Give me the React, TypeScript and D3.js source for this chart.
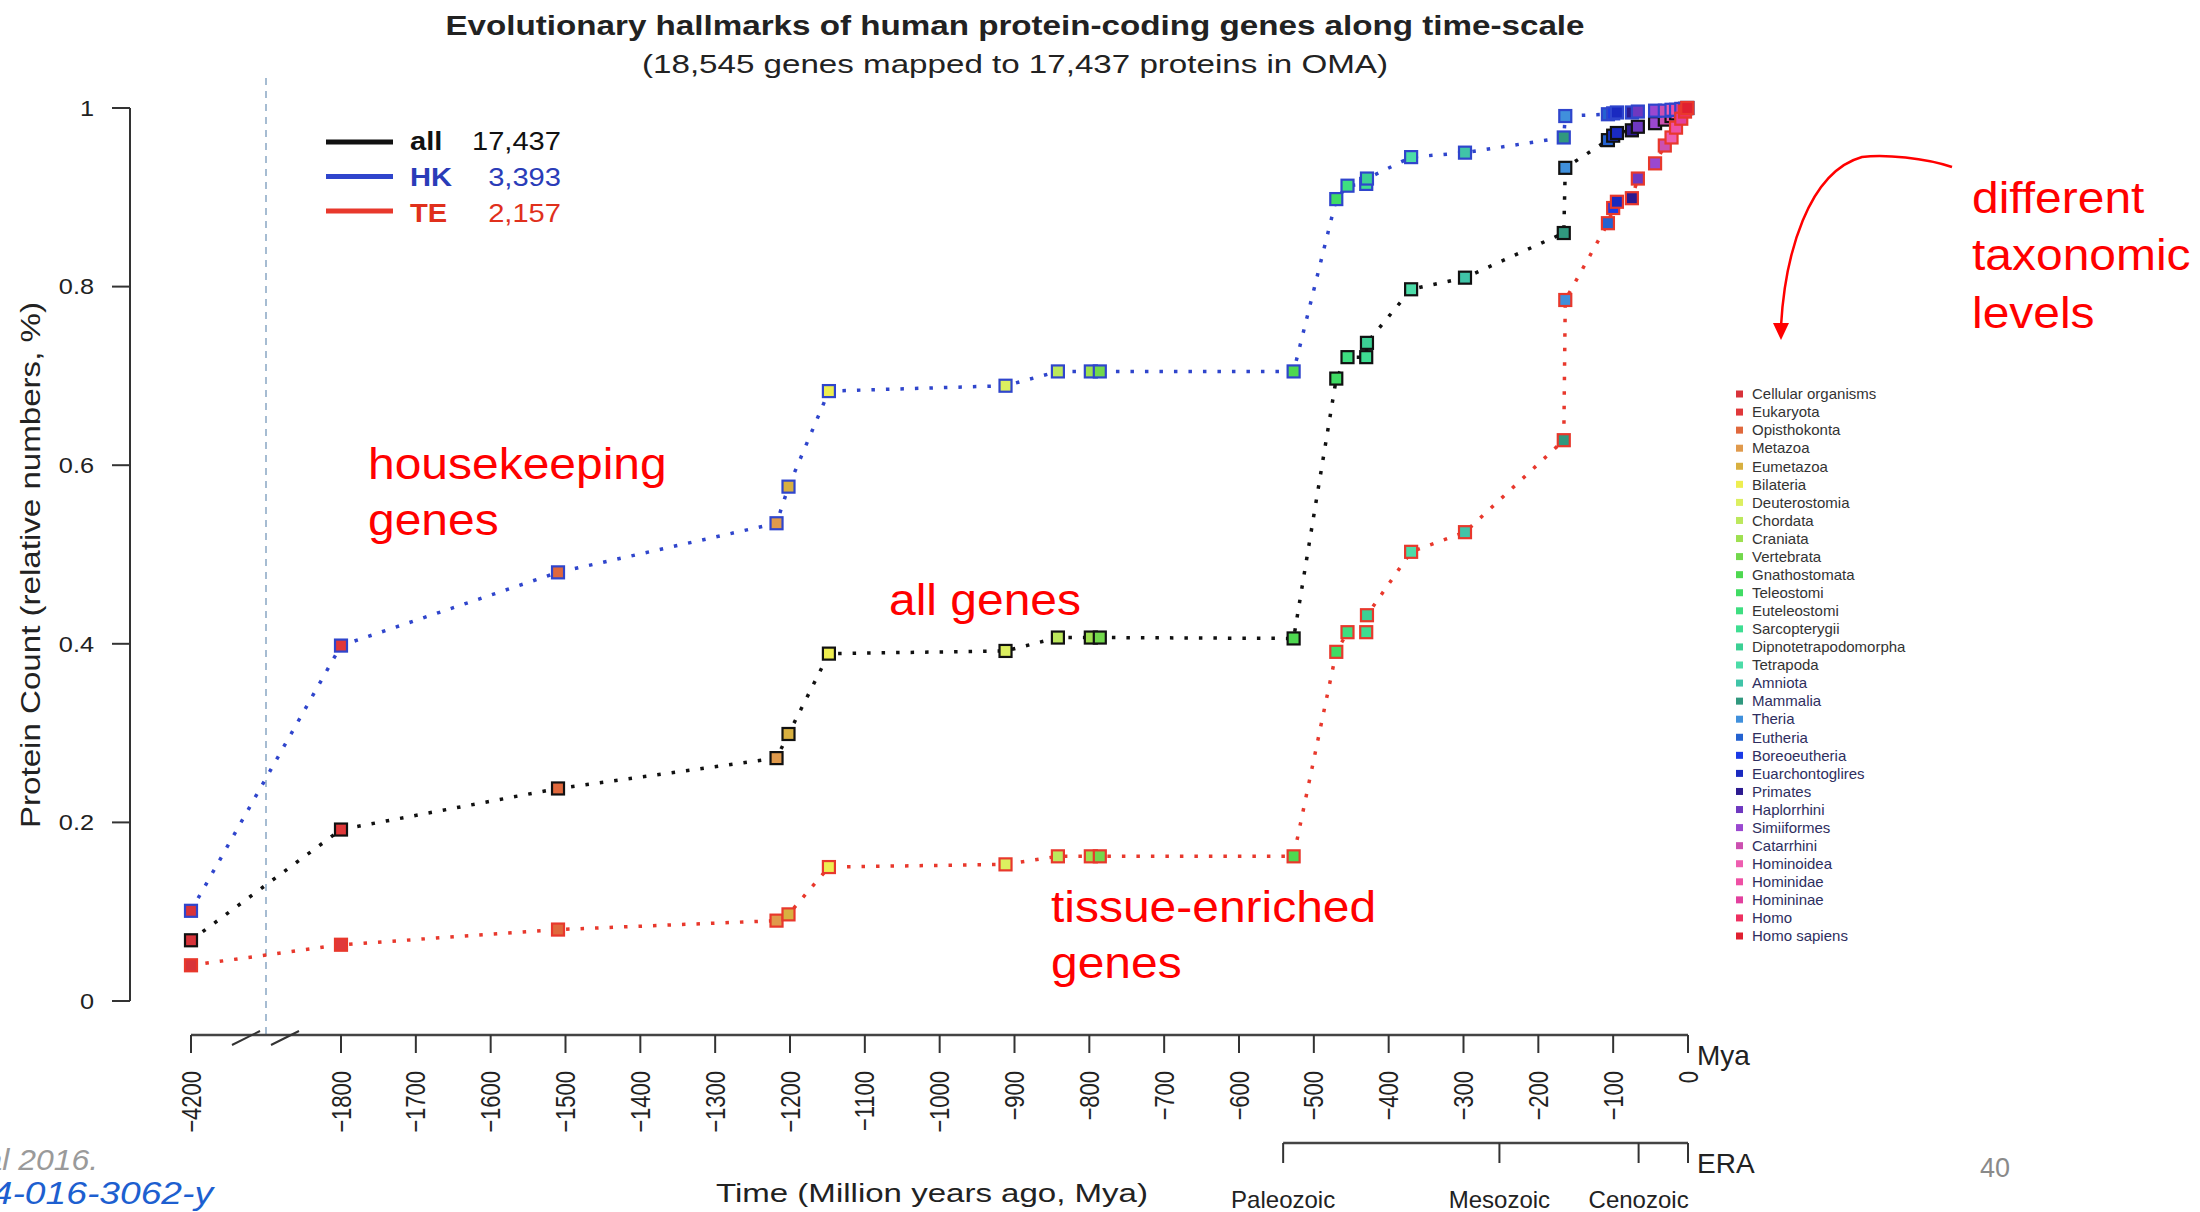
import React from 'react';
import * as d3 from 'd3';

// taxonomic levels, oldest first
const levels = [
  'Cellular organisms', 'Eukaryota', 'Opisthokonta', 'Metazoa', 'Eumetazoa', 'Bilateria',
  'Deuterostomia', 'Chordata', 'Craniata', 'Vertebrata', 'Gnathostomata', 'Teleostomi',
  'Euteleostomi', 'Sarcopterygii', 'Dipnotetrapodomorpha', 'Tetrapoda', 'Amniota', 'Mammalia',
  'Theria', 'Eutheria', 'Boreoeutheria', 'Euarchontoglires', 'Primates', 'Haplorrhini',
  'Simiiformes', 'Catarrhini', 'Hominoidea', 'Hominidae', 'Homininae', 'Homo', 'Homo sapiens',
];
const levelMya = [
  -4200, -1800, -1510, -1218, -1202, -1148, -912, -842, -798, -786, -527, -470,
  -455, -430, -429, -370, -298, -166, -164, -107, -100, -95, -75, -67,
  -44, -31, -22, -16, -9, -4, -1,
];
const levelColors = [
  '#d8333a', '#e0383a', '#e0683c', '#e09a4c', '#d8b040', '#eeee50',
  '#dcef60', '#bce85c', '#9ee050', '#72d84c', '#4ed850', '#40dc64',
  '#3ede80', '#3ede92', '#3cd094', '#4cdca8', '#40c4a8', '#30987e',
  '#4090dc', '#2462d0', '#1a3ae6', '#1a2ac0', '#2c1a90', '#6e38c0',
  '#9a48d0', '#cc50b0', '#ee5eb0', '#ee50a4', '#e2409e', '#ee3060', '#e02030',
];

// cumulative share of proteins per level
const hkShare = [
  0.101, 0.398, 0.48, 0.535, 0.576, 0.683, 0.689, 0.705, 0.705, 0.705, 0.705, 0.898,
  0.913, 0.915, 0.921, 0.945, 0.95, 0.967, 0.991, 0.993, 0.994, 0.995, 0.995, 0.996,
  0.997, 0.997, 0.998, 0.998, 0.999, 0.999, 1.0,
];
const allShare = [
  0.068, 0.192, 0.238, 0.272, 0.299, 0.389, 0.392, 0.407, 0.407, 0.407, 0.406, 0.697,
  0.721, 0.721, 0.737, 0.797, 0.81, 0.86, 0.933, 0.964, 0.969, 0.972, 0.975, 0.979,
  0.983, 0.987, 0.991, 0.994, 0.997, 0.999, 1.0,
];
const teShare = [
  0.04, 0.063, 0.08, 0.09, 0.097, 0.15, 0.153, 0.162, 0.162, 0.162, 0.162, 0.391,
  0.413, 0.413, 0.432, 0.503, 0.525, 0.628, 0.785, 0.871, 0.888, 0.895, 0.899, 0.921,
  0.938, 0.958, 0.967, 0.978, 0.988, 0.996, 1.0,
];

const timeTicks = [-4200, -1800, -1700, -1600, -1500, -1400, -1300, -1200, -1100, -1000,
  -900, -800, -700, -600, -500, -400, -300, -200, -100, 0];
const yTicks = [0, 0.2, 0.4, 0.6, 0.8, 1];
const eraNames = ['Paleozoic', 'Mesozoic', 'Cenozoic'];
const eraStarts = [-541, -252, -66];

const seriesNames = ['all', 'HK', 'TE'];
const seriesCounts = ['17,437', '3,393', '2,157'];
const seriesColors = ['#111111', '#2f45cc', '#e8382c'];
const seriesText = ['#111111', '#2a3cb8', '#e0301c'];
const seriesValues = [allShare, hkShare, teShare];

const FONT = '"Liberation Sans", Arial, Helvetica, sans-serif';

const x = d3.scaleLinear().domain([-1800, 0]).range([341, 1688]);
const xDeep = d3.scaleLinear().domain([-4200, -1800]).range([191, 341]);
const xPos = (t: number) => (t < -1800 ? xDeep(t) : x(t));
const breakX = xDeep(-3000);
const y = d3.scaleLinear().domain([0, 1]).range([1001, 108]);
const legendY = d3.scalePoint<string>().domain(levels).range([394, 936]);

const T = ({ x, y, sx = 1, rot = 0, children, ...rest }: any) => (
  <text
    transform={`translate(${x},${y}) scale(${sx},1)${rot ? ` rotate(${rot})` : ''}`}
    {...rest}
  >
    {children}
  </text>
);

export default function App() {
  const line = d3
    .line<number>()
    .x((_, i) => xPos(levelMya[i]))
    .y((d) => y(d));

  const axisY = 1035;
  const eraY = 1143;

  return (
    <svg
      width={2200}
      height={1212}
      style={{ position: 'absolute', left: 0, top: 0, background: '#fff' }}
      fontFamily={FONT}
    >
      <rect width={2200} height={1212} fill="#fff" />

      {/* titles */}
      <text x={1015} y={35} textAnchor="middle" fontSize={27} fontWeight="bold" fill="#222"
        textLength={1139} lengthAdjust="spacingAndGlyphs">
        Evolutionary hallmarks of human protein-coding genes along time-scale
      </text>
      <text x={1015} y={73} textAnchor="middle" fontSize={26} fill="#222"
        textLength={746} lengthAdjust="spacingAndGlyphs">
        (18,545 genes mapped to 17,437 proteins in OMA)
      </text>

      {/* break marker */}
      <line x1={breakX} x2={breakX} y1={78} y2={axisY} stroke="#a6bcd2" strokeWidth={2}
        strokeDasharray="7 6" />

      {/* y axis */}
      <line x1={130} x2={130} y1={y(1)} y2={y(0)} stroke="#333" strokeWidth={2} />
      {yTicks.map((v) => (
        <g key={v}>
          <line x1={112} x2={130} y1={y(v)} y2={y(v)} stroke="#333" strokeWidth={2} />
          <T x={94} y={y(v)} sx={1.15} dy="0.35em" textAnchor="end" fontSize={22} fill="#222">
            {String(v)}
          </T>
        </g>
      ))}
      <text transform={`translate(40,565) rotate(-90)`} textAnchor="middle" fontSize={27}
        fill="#222" textLength={526} lengthAdjust="spacingAndGlyphs">
        Protein Count (relative numbers, %)
      </text>

      {/* time axis */}
      <line x1={xPos(-4200)} x2={x(0)} y1={axisY} y2={axisY} stroke="#444" strokeWidth={2.5} />
      {[0, 1].map((k) => (
        <line key={k} x1={232 + k * 39} x2={260 + k * 39} y1={axisY + 10} y2={axisY - 4}
          stroke="#333" strokeWidth={2} />
      ))}
      {timeTicks.map((t) => (
        <g key={t}>
          <line x1={xPos(t)} x2={xPos(t)} y1={axisY} y2={axisY + 18} stroke="#333" strokeWidth={2} />
          <T x={xPos(t)} y={1071} sx={1.25} rot={-90} dy="0.35em" textAnchor="end" fontSize={22}
            fill="#222">
            {t === 0 ? '0' : `\u2212${Math.abs(t)}`}
          </T>
        </g>
      ))}
      <text x={1697} y={1065} fontSize={28} fill="#222">Mya</text>

      {/* era axis */}
      <line x1={x(eraStarts[0])} x2={x(0)} y1={eraY} y2={eraY} stroke="#444" strokeWidth={2.5} />
      {[...eraStarts, 0].map((t) => (
        <line key={t} x1={x(t)} x2={x(t)} y1={eraY} y2={eraY + 20} stroke="#333" strokeWidth={2} />
      ))}
      {eraNames.map((n, i) => (
        <text key={n} x={x(eraStarts[i])} y={1208} textAnchor="middle" fontSize={24} fill="#222">
          {n}
        </text>
      ))}
      <text x={1697} y={1173} fontSize={28} fill="#222">ERA</text>
      <text x={932} y={1202} textAnchor="middle" fontSize={26} fill="#222" textLength={432}
        lengthAdjust="spacingAndGlyphs">
        Time (Million years ago, Mya)
      </text>

      {/* dotted series lines */}
      {seriesValues.map((vals, s) => (
        <path key={seriesNames[s]} d={line(vals) || ''} fill="none" stroke={seriesColors[s]}
          strokeWidth={3.5} strokeDasharray="3.5 11" />
      ))}
      {/* points: outline = series, fill = taxonomic level */}
      {seriesValues.map((vals, s) => (
        <g key={seriesNames[s]}>
          {vals.map((v, i) => (
            <rect key={i} x={xPos(levelMya[i]) - 6} y={y(v) - 6} width={12} height={12}
              fill={levelColors[i]} stroke={seriesColors[s]} strokeWidth={2.2} />
          ))}
        </g>
      ))}

      {/* series legend */}
      {seriesNames.map((n, i) => (
        <g key={n}>
          <line x1={326} x2={393} y1={142 + i * 34.5} y2={142 + i * 34.5} stroke={seriesColors[i]}
            strokeWidth={5} />
          <T x={410} y={150 + i * 36} sx={1.12} fontSize={26} fontWeight="bold" fill={seriesText[i]}>
            {n}
          </T>
          <T x={561} y={150 + i * 36} sx={1.12} textAnchor="end" fontSize={26} fill={seriesText[i]}>
            {seriesCounts[i]}
          </T>
        </g>
      ))}

      {/* taxonomic level legend */}
      {levels.map((n, i) => (
        <g key={n}>
          <rect x={1736} y={(legendY(n) as number) - 3.5} width={7} height={7} fill={levelColors[i]} />
          <text x={1752} y={legendY(n)} dy="0.35em" fontSize={15}
            fill={i < 16 ? '#333' : '#2e2e60'}>
            {n}
          </text>
        </g>
      ))}

      {/* slide annotations */}
      <g fill="#ff0000" fontSize={44}>
        <T x={368} y={479} sx={1.09}>housekeeping</T>
        <T x={368} y={535} sx={1.09}>genes</T>
        <T x={889} y={615} sx={1.09}>all genes</T>
        <T x={1051} y={922} sx={1.09}>tissue-enriched</T>
        <T x={1051} y={978} sx={1.09}>genes</T>
        <T x={1972} y={213} sx={1.09}>different</T>
        <T x={1972} y={270} sx={1.09}>taxonomic</T>
        <T x={1972} y={328} sx={1.09}>levels</T>
      </g>
      <path d="M1952,167 C1925,158 1885,154 1862,157 C1808,172 1785,255 1781,326" fill="none"
        stroke="#ff0000" strokeWidth={2.5} />
      <polygon points="1773,323 1789,323 1781,340" fill="#ff0000" />

      {/* slide footer, cut at the left edge as on the slide */}
      <T x={98} y={1170} sx={1.1} textAnchor="end" fontSize={29} fontStyle="italic" fill="#9a9a9a">
        et al 2016.
      </T>
      <T x={213} y={1204} sx={1.2} textAnchor="end" fontSize={31} fontStyle="italic" fill="#1d5fd0">
        https://doi.org/10.1186/s12864-016-3062-y
      </T>
      <text x={1980} y={1177} fontSize={27} fill="#8a8a8a">40</text>
    </svg>
  );
}
